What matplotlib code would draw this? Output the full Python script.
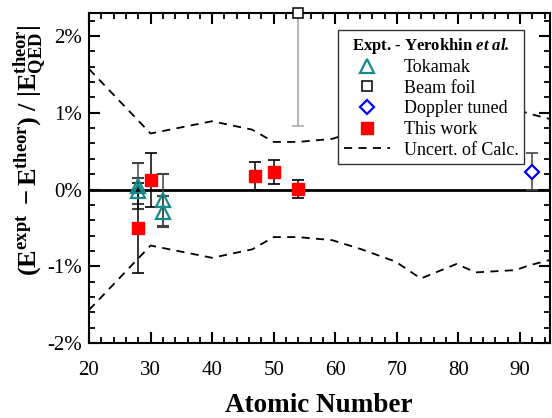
import numpy as np
import matplotlib
matplotlib.use("Agg")
import matplotlib.pyplot as plt
from matplotlib.ticker import MultipleLocator, FuncFormatter

plt.rcParams["font.family"] = ["Liberation Serif", "DejaVu Serif"]
plt.rcParams["mathtext.fontset"] = "custom"
plt.rcParams["mathtext.rm"] = "Liberation Serif"
plt.rcParams["mathtext.bf"] = "Liberation Serif:bold"
plt.rcParams["mathtext.it"] = "Liberation Serif:italic"
plt.rcParams["mathtext.bfit"] = "Liberation Serif:italic:bold"

# Tokamak (open triangles)
tok_z = [28, 28, 32, 32]
tok_val = [0.04, -0.02, -0.14, -0.29]
tok_err = [0.30, 0.17, 0.34, 0.20]

# Beam foil (open square)
foil_z = [54]
foil_val = [2.30]
foil_err = [1.47]

# Doppler tuned (open diamond)
dop_z = [92]
dop_val = [0.23]
dop_err = [0.24]

# This work (filled squares)
work_z = [28, 30, 47, 50, 54]
work_val = [-0.50, 0.12, 0.18, 0.23, 0.01]
work_err = [0.59, 0.35, 0.18, 0.16, 0.12]

# Uncertainty of calculation (symmetric band, %)
unc_z = [20, 30, 40, 46.5, 50, 54, 59.5, 64.3, 69.8, 73.9, 79.7, 82.8, 89.3, 91.4, 94.8]
unc_val = [1.57, 0.73, 0.89, 0.78, 0.62, 0.62, 0.66, 0.78, 0.94, 1.16, 0.97, 1.08, 1.05, 0.99, 0.92]

fig = plt.figure(figsize=(5.52, 4.18), dpi=100)
ax = fig.add_axes([89 / 552, 1 - 343 / 418, 460.5 / 552, 330 / 418])

teal = "#168a8a"

ax.axhline(0, color="black", lw=2, zorder=1)

unc = np.array(unc_val)
dl, = ax.plot(unc_z, unc, color="black", lw=1.3, dashes=(4.5, 3.5))
ax.plot(unc_z, -unc, color="black", lw=1.3, dashes=(4.5, 3.5))

ax.errorbar(foil_z, foil_val, yerr=foil_err, fmt="none", ecolor="#aaaaaa",
            elinewidth=1.2, capsize=4.5, capthick=1.2, zorder=2)
h_foil, = ax.plot(foil_z, foil_val, "s", ms=7.5, mfc="white", mec="black",
                  mew=1.1, clip_on=False, zorder=5, linestyle="none")

ax.errorbar(tok_z, tok_val, yerr=tok_err, fmt="none", ecolor="#444444",
            elinewidth=1.1, capsize=4.5, capthick=1.5, zorder=2)
h_tok, = ax.plot(tok_z, tok_val, "^", ms=10, mfc="none", mec=teal,
                 mew=1.6, zorder=4, linestyle="none")

ax.errorbar(dop_z, dop_val, yerr=dop_err, fmt="none", ecolor="#444444",
            elinewidth=1.1, capsize=4.5, capthick=1.2, zorder=7)
h_dop, = ax.plot(dop_z, dop_val, "D", ms=7.5, mfc="white", mec="blue",
                 mew=1.6, zorder=8, linestyle="none")

ax.errorbar(work_z, work_val, yerr=work_err, fmt="none", ecolor="black",
            elinewidth=1.1, capsize=4.5, capthick=1.2, zorder=2)
h_work, = ax.plot(work_z, work_val, "s", ms=8.5, mfc="red", mec="red",
                  zorder=4, linestyle="none")

ax.set_xlim(20, 94.8)
ax.set_ylim(-2, 2.3)
ax.xaxis.set_major_locator(MultipleLocator(10))
ax.xaxis.set_minor_locator(MultipleLocator(2))
ax.yaxis.set_major_locator(MultipleLocator(1))
ax.yaxis.set_minor_locator(MultipleLocator(0.2))
ax.yaxis.set_major_formatter(FuncFormatter(lambda v, p: f"{v:.0f}%".replace("\u2212", "-")))
ax.tick_params(which="both", direction="in", top=True, right=True, labelsize=15)
ax.tick_params(which="major", length=8, width=1.5, pad=5)
ax.tick_params(axis="x", which="major", pad=13)
ax.tick_params(which="minor", length=4.5, width=1.3)
for s in ax.spines.values():
    s.set_linewidth(1.5)

ax.set_xlabel("Atomic Number", fontsize=19.5, fontweight="bold", labelpad=9)
fig.text(0.055, 0.64,
         r"$\mathbf{(E^{expt}\ -E^{theor})\ /\ |E^{theor}_{QED}|}$",
         rotation=90, fontsize=19, ha="center", va="center")

leg = ax.legend([h_tok, h_foil, h_dop, h_work, dl],
                ["Tokamak", "Beam foil", "Doppler tuned", "This work", "Uncert. of Calc."],
                title=r"Expt. - Yerokhin $\mathbfit{et\ al.}$",
                loc="upper left", bbox_to_anchor=(0.541, 0.948),
                fontsize=13, title_fontproperties={"size": 12, "weight": "bold"},
                frameon=True, fancybox=False, edgecolor="#333333", framealpha=1,
                borderpad=0.3, labelspacing=0.2, handlelength=2.6,
                handletextpad=0.75, borderaxespad=0)
leg.get_frame().set_linewidth(1.0)
leg.set_zorder(6)

fig.savefig("out.png", dpi=100)
